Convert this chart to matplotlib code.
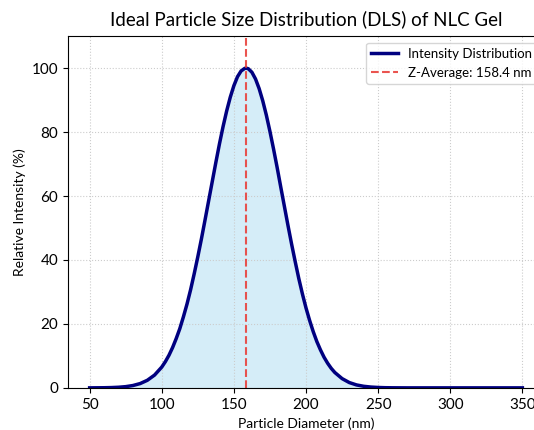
import matplotlib
matplotlib.use("Agg")
import matplotlib.pyplot as plt

# particle diameter (nm) and relative intensity (%)
diameter = [50, 55, 60, 65, 70, 75, 80, 85, 90, 95, 100, 102.5, 105, 107.5,
            110, 112.5, 115, 117.5, 120, 122.5, 125, 127.5, 130, 132.5, 135,
            137.5, 140, 142.5, 145, 147.5, 150, 152.5, 155, 157.5, 158.4, 160,
            162.5, 165, 167.5, 170, 172.5, 175, 177.5, 180, 182.5, 185, 187.5,
            190, 192.5, 195, 197.5, 200, 202.5, 205, 207.5, 210, 212.5, 215,
            217.5, 220, 225, 230, 235, 240, 245, 250, 255, 260, 270, 280, 290,
            300, 310, 320, 330, 340, 350]
intensity = [0.0, 0.02, 0.04, 0.09, 0.19, 0.38, 0.73, 1.34, 2.37, 4.0, 6.5,
             8.2, 10.2, 12.6, 15.4, 18.5, 22.2, 26.2, 30.7, 35.7, 41.0, 46.6,
             52.5, 58.5, 64.5, 70.5, 76.3, 81.7, 86.6, 90.9, 94.5, 97.3, 99.1,
             99.9, 100.0, 99.8, 98.7, 96.6, 93.6, 89.8, 85.3, 80.2, 74.7, 68.9,
             62.8, 56.8, 50.8, 45.0, 39.5, 34.2, 29.4, 25.0, 21.1, 17.6, 14.5,
             11.9, 9.6, 7.7, 6.1, 4.8, 2.9, 1.66, 0.92, 0.49, 0.25, 0.12, 0.05,
             0.02, 0.0, 0.0, 0.0, 0.0, 0.0, 0.0, 0.0, 0.0, 0.0]
z_average = 158.4
x_ticks = [50, 100, 150, 200, 250, 300, 350]
y_ticks = [0, 20, 40, 60, 80, 100]

plt.rcParams['font.family'] = ['Lato', 'DejaVu Sans']

fig = plt.figure(figsize=(5.34, 4.3), dpi=100)
ax = fig.add_axes([68 / 534, 0.098, 476 / 534, 0.818])

ax.fill_between(diameter, intensity, color="#87ceeb", alpha=0.35, lw=0)
ax.plot(diameter, intensity, color="#000080", lw=2.5, label="Intensity Distribution")
ax.axvline(z_average, color="#e8413c", ls="--", lw=1.5, alpha=0.9,
           label=f"Z-Average: {z_average} nm")

ax.set_xlim(35, 365)
ax.set_ylim(0, 110)
ax.set_xticks(x_ticks)
ax.set_yticks(y_ticks)
ax.tick_params(labelsize=11)
ax.grid(True, ls=":", color="#cccccc", lw=0.8)

ax.set_title("Ideal Particle Size Distribution (DLS) of NLC Gel", fontsize=13.5, pad=8)
ax.set_xlabel("Particle Diameter (nm)", fontsize=10)
ax.set_ylabel("Relative Intensity (%)", fontsize=10)
ax.legend(loc="upper right", fontsize=9.5)

fig.savefig("out.png", dpi=100)
